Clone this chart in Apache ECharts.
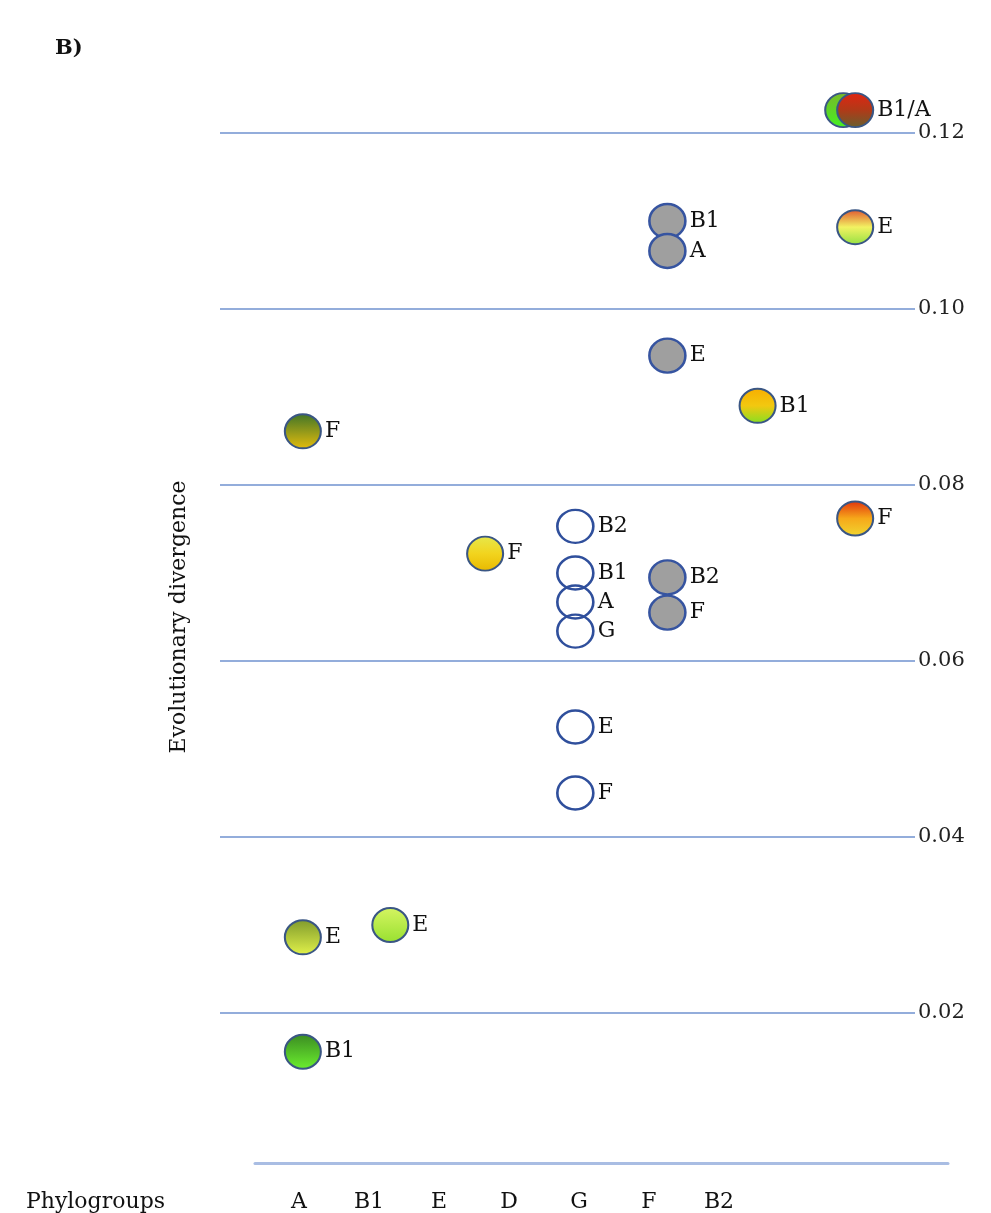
<!DOCTYPE html>
<html>
<head>
<meta charset="utf-8">
<script src="https://cdn.jsdelivr.net/npm/echarts@6/dist/echarts.min.js"></script>
<style>
  html, body { margin: 0; padding: 0; background: #fff; }
  #chart { width: 991px; height: 1213px; }
</style>
</head>
<body>
<div id="chart"></div>
<script>
  // phylogroup labels along the bottom
  var phylogroups = ['A', 'B1', 'E', 'D', 'G', 'F', 'B2'];

  // open circles (column 5)
  var openX = [3.96, 3.96, 3.96, 3.96, 3.96, 3.96];
  var openValues = [0.0753, 0.0700, 0.0667, 0.0634, 0.0525, 0.0450];
  var openNames = ['B2', 'B1', 'A', 'G', 'E', 'F'];

  // grey circles (column 6)
  var greyX = [4.96, 4.96, 4.96, 4.96, 4.96];
  var greyValues = [0.1100, 0.1066, 0.0947, 0.0695, 0.0655];
  var greyNames = ['B1', 'A', 'E', 'B2', 'F'];

  // coloured circles
  var colourX = [1, 1, 1, 1.95, 2.98, 5.94, 6.87, 7, 7, 7];
  var colourValues = [0.0861, 0.0286, 0.0156, 0.0300, 0.0722, 0.0890, 0.1226, 0.1226, 0.1093, 0.0762];
  var colourNames = ['F', 'E', 'B1', 'E', 'F', 'B1', '', 'B1/A', 'E', 'F'];

  var serif = 'DejaVu Serif';

  // gradient stops for each coloured circle (top -> bottom)
  var fills = [
    ['#3f7428', '#e6bd0c'],
    ['#7f9a2c', '#e2f24a'],
    ['#3a8a22', '#6cf02e'],
    ['#d6f562', '#98e030'],
    ['#e6e84c', '#f2d41e', '#e8b800'],
    ['#f8ae00', '#f2c810', '#84e022'],
    ['#7ab82a', '#44f022'],
    ['#e22412', '#b03a18', '#66602e'],
    ['#e05430', '#f2f262', '#92e042'],
    ['#e2300e', '#f6a81a', '#f0d630']
  ];

  function grad(stops) {
    var cs = stops.map(function (c, i) {
      return { offset: i / (stops.length - 1), color: c };
    });
    return { type: 'linear', x: 0, y: 0, x2: 0, y2: 1, colorStops: cs };
  }

  function build(xs, ys, names, styleFn) {
    return ys.map(function (v, i) {
      var item = { value: [xs[i], v], name: names[i] };
      if (styleFn) item.itemStyle = styleFn(i);
      return item;
    });
  }

  var pointLabel = {
    show: true,
    position: 'right',
    distance: 3,
    formatter: '{b}',
    fontFamily: serif,
    fontSize: 22,
    color: '#111'
  };

  var option = {
    animation: false,
    backgroundColor: '#ffffff',
    title: {
      text: 'B)',
      left: 50,
      top: 33,
      textStyle: { fontFamily: serif, fontSize: 21, fontWeight: 'bold', color: '#111' }
    },
    grid: [
      { left: 220, right: 76, top: 45, bottom: 24 },
      { left: 255, right: 43, top: 1100, bottom: 50 },
      { left: 264, right: 237, top: 1150, bottom: 28 }
    ],
    xAxis: [
      { gridIndex: 0, type: 'value', min: 0.1, max: 7.65, show: false },
      {
        gridIndex: 1, type: 'value', min: 0, max: 1,
        axisLine: { show: true, lineStyle: { color: '#a9bde3', width: 3 } },
        axisTick: { show: false }, axisLabel: { show: false }, splitLine: { show: false }
      },
      {
        gridIndex: 2, type: 'category', data: phylogroups,
        axisLine: { show: false }, axisTick: { show: false },
        axisLabel: { margin: 6, fontFamily: serif, fontSize: 22, color: '#111' },
        name: 'Phylogroups',
        nameLocation: 'start',
        nameGap: 99,
        nameTextStyle: { fontFamily: serif, fontSize: 22, color: '#111', verticalAlign: 'top', padding: [6, 0, 0, 0] }
      }
    ],
    yAxis: [
      {
        gridIndex: 0, type: 'value', position: 'right',
        min: 0, max: 0.13, interval: 0.02,
        axisLine: { show: false }, axisTick: { show: false },
        axisLabel: {
          margin: 3, fontFamily: serif, fontSize: 21, color: '#222',
          showMinLabel: false, showMaxLabel: false,
          formatter: function (v) { return v.toFixed(2); }
        },
        splitLine: {
          show: true, showMinLine: false, showMaxLine: false,
          lineStyle: { color: '#93addb', width: 2 }
        }
      },
      {
        gridIndex: 0, type: 'value', position: 'left',
        min: 0, max: 0.13,
        axisLine: { show: false }, axisTick: { show: false },
        axisLabel: { show: false }, splitLine: { show: false },
        name: 'Evolutionary divergence',
        nameLocation: 'middle',
        nameGap: 30,
        nameTextStyle: { fontFamily: serif, fontSize: 22, color: '#111' }
      },
      { gridIndex: 1, type: 'value', show: false },
      { gridIndex: 2, type: 'value', show: false }
    ],
    series: [
      {
        name: 'open',
        type: 'scatter',
        xAxisIndex: 0, yAxisIndex: 0,
        symbol: 'circle',
        symbolSize: [36, 33],
        itemStyle: { color: 'rgba(255,255,255,0)', borderColor: '#2f4f9c', borderWidth: 2.5, opacity: 1 },
        label: pointLabel,
        data: build(openX, openValues, openNames)
      },
      {
        name: 'grey',
        type: 'scatter',
        xAxisIndex: 0, yAxisIndex: 0,
        symbol: 'circle',
        symbolSize: [36, 34],
        itemStyle: { color: '#9f9f9f', borderColor: '#3654a0', borderWidth: 2.5, opacity: 1 },
        label: pointLabel,
        data: build(greyX, greyValues, greyNames)
      },
      {
        name: 'coloured',
        type: 'scatter',
        xAxisIndex: 0, yAxisIndex: 0,
        symbol: 'circle',
        symbolSize: [36, 34],
        itemStyle: { borderColor: '#3a5684', borderWidth: 2, opacity: 1 },
        label: pointLabel,
        data: build(colourX, colourValues, colourNames, function (i) {
          return { color: grad(fills[i]) };
        })
      }
    ]
  };

  var myChart = echarts.init(document.getElementById('chart'));
  myChart.setOption(option);
</script>
</body>
</html>
